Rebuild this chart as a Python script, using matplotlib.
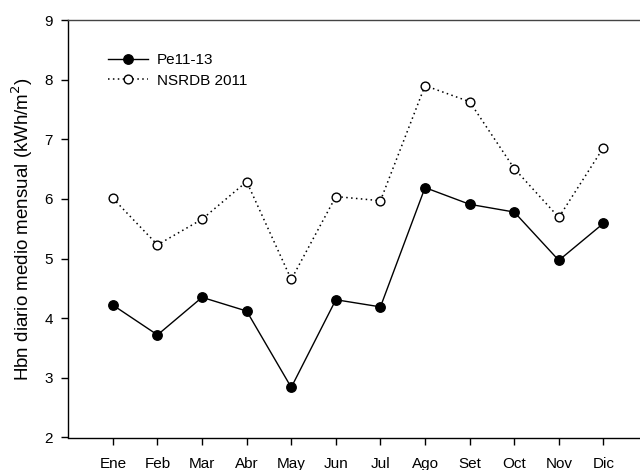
import matplotlib
matplotlib.use("Agg")
import matplotlib.pyplot as plt

months = ["Ene", "Feb", "Mar", "Abr", "May", "Jun", "Jul", "Ago", "Set", "Oct", "Nov", "Dic"]
pe11_13 = [4.22, 3.72, 4.35, 4.12, 2.84, 4.31, 4.19, 6.19, 5.91, 5.78, 4.97, 5.59]
nsrdb_2011 = [6.01, 5.23, 5.66, 6.29, 4.65, 6.04, 5.97, 7.90, 7.63, 6.51, 5.69, 6.86]

plt.rcParams["font.family"] = ["Liberation Sans", "DejaVu Sans"]
plt.rcParams["font.size"] = 11

fig = plt.figure(figsize=(6.4, 4.7), dpi=100)
# box runs slightly past the right edge of the canvas
ax = fig.add_axes([68.3 / 640, 1 - 437.5 / 470, (648 - 68.3) / 640, (437.5 - 20) / 470])

x = list(range(1, len(months) + 1))
ax.plot(x, pe11_13, color="black", lw=1, marker="o", ms=6.8,
        mfc="black", mec="black", label="Pe11-13")
ax.plot(x, nsrdb_2011, color="black", lw=1.1, ls=(0, (1, 2.2)), marker="o", ms=6.3,
        mfc="white", mec="black", mew=1, label="NSRDB 2011")

ax.set_xlim(0, 13)
ax.set_ylim(2, 9)
ax.set_xticks(x)
ax.set_xticklabels(months)
ax.set_yticks(range(2, 10))
ax.tick_params(direction="out", length=5, width=1, top=False, right=False, pad=6)
ax.tick_params(axis="x", pad=9)
for side in ["left", "bottom", "top", "right"]:
    ax.spines[side].set_linewidth(1)
ax.spines["top"].set_color("#444444")

ax.set_ylabel("Hbn diario medio mensual (kWh/m$^2$)", fontsize=13.5, labelpad=7)

ax.legend(loc="upper left", bbox_to_anchor=(0.058, 0.935), frameon=False,
          handlelength=2.6, handletextpad=0.6, labelspacing=0.42, borderaxespad=0)

fig.savefig("out.png", dpi=100)
